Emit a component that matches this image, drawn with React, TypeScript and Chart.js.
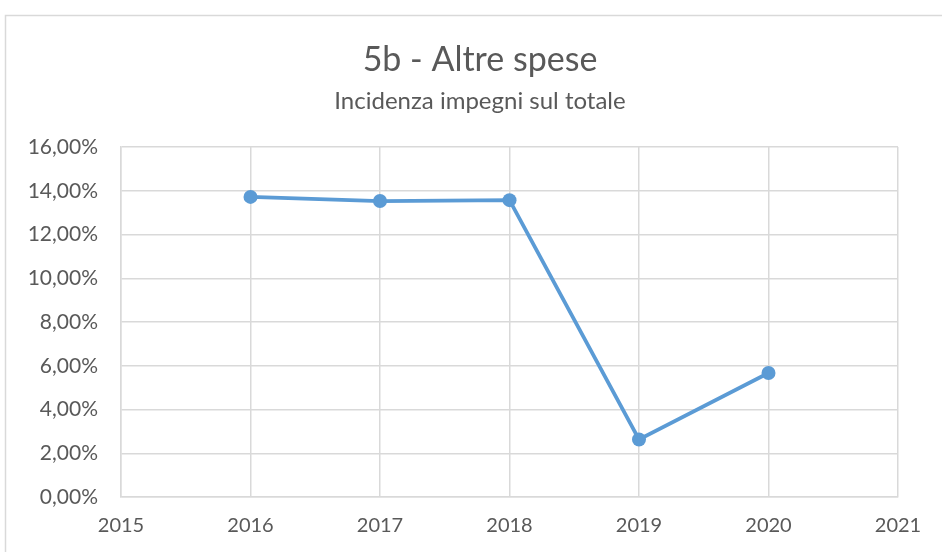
import React, { useEffect, useRef } from "react";
import { Chart, registerables } from "chart.js";

Chart.register(...registerables);

const years = [2016, 2017, 2018, 2019, 2020];
const values = [13.72, 13.53, 13.57, 2.63, 5.67];
const titleText = "5b - Altre spese";
const subtitleText = "Incidenza impegni sul totale";
const xMin = 2015;
const xMax = 2021;
const yMin = 0;
const yMax = 16;
const yStep = 2;

const FONT = "Lato, 'Open Sans', sans-serif";

const framePlugin = {
  id: "frame",
  beforeDraw(chart: any) {
    const ctx = chart.ctx;
    ctx.save();
    ctx.fillStyle = "#ffffff";
    ctx.fillRect(0, 0, chart.width, chart.height);
    ctx.strokeStyle = "#d9d9d9";
    ctx.lineWidth = 1.5;
    ctx.strokeRect(5.5, 15.5, chart.width + 20, chart.height + 20);
    ctx.fillStyle = "#595959";
    ctx.textAlign = "center";
    ctx.textBaseline = "middle";
    ctx.font = `normal 34px ${FONT}`;
    ctx.fillText(titleText, 480, 60);
    ctx.font = `normal 24px ${FONT}`;
    ctx.fillText(subtitleText, 480, 101);
    ctx.restore();
  },
};

export default function App() {
  const ref = useRef<HTMLCanvasElement>(null);
  useEffect(() => {
    if (!ref.current) return;
    const chart = new Chart(ref.current, {
      type: "line",
      data: {
        datasets: [
          {
            label: subtitleText,
            data: years.map((y, i) => ({ x: y, y: values[i] })),
            borderColor: "#5b9bd5",
            backgroundColor: "#5b9bd5",
            borderWidth: 3.75,
            pointRadius: 7,
            pointBorderWidth: 0,
            pointBackgroundColor: "#5b9bd5",
            tension: 0,
          },
        ],
      },
      options: {
        responsive: false,
        animation: false,
        layout: { padding: { left: 0, right: 44, top: 147, bottom: 0 } },
        plugins: {
          legend: { display: false },
          tooltip: { enabled: false },
          title: { display: false },
          subtitle: { display: false },
        },
        scales: {
          x: {
            type: "linear",
            min: xMin,
            max: xMax,
            afterFit: (s: any) => {
              s.height = 55;
            },
            ticks: {
              stepSize: 1,
              color: "#595959",
              font: { family: FONT, size: 20 },
              padding: 17,
              callback: (v: any) => String(v),
            },
            grid: { color: "#d9d9d9", lineWidth: 1.5, drawTicks: false },
            border: { color: "#d9d9d9", width: 1.5 },
          },
          y: {
            min: yMin,
            max: yMax,
            afterFit: (s: any) => {
              s.width = 121;
            },
            ticks: {
              stepSize: yStep,
              color: "#595959",
              font: { family: FONT, size: 21 },
              padding: 23,
              callback: (v: any) => Number(v).toFixed(2).replace(".", ",") + "%",
            },
            grid: { color: "#d9d9d9", lineWidth: 1.5, drawTicks: false },
            border: { color: "#d9d9d9", width: 1.5 },
          },
        },
      },
      plugins: [framePlugin],
    });
    return () => chart.destroy();
  }, []);
  return (
    <div style={{ position: "fixed", left: 0, top: 0, width: 942, height: 552, background: "#fff" }}>
      <canvas ref={ref} width={942} height={552} />
    </div>
  );
}
